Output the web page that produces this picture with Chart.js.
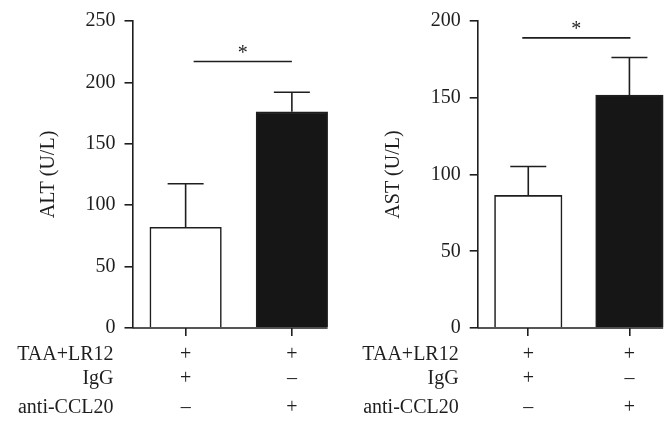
<!DOCTYPE html>
<html>
<head>
<meta charset="utf-8">
<script src="https://cdn.jsdelivr.net/npm/chart.js@4.4.0/dist/chart.umd.min.js"></script>
<style>
  html, body { margin: 0; padding: 0; background: #fff; overflow: hidden; }
  .panel { position: absolute; top: 0; width: 345px; height: 421px; }
</style>
</head>
<body>
<div class="panel" style="left:0"><canvas id="altChart"></canvas></div>
<div class="panel" style="left:335px"><canvas id="astChart"></canvas></div>
<script>
const groups = ['IgG', 'anti-CCL20']
const rowNames = ['TAA+LR12', 'IgG', 'anti-CCL20']
const groupSigns = [['+', '+', '–'], ['+', '–', '+']]

const altMeans = [82, 176]
const altErrors = [35.5, 16]
const astMeans = [86.4, 151.7]
const astErrors = [18.8, 24.5]

const altTicks = [0, 50, 100, 150, 200, 250]
const astTicks = [0, 50, 100, 150, 200]

// height of the bracket over the bars, in axis units
const altSignif = 217
const astSignif = 189

const INK = '#1e1e1e'
const SERIF = "'Liberation Serif', 'Times New Roman', serif"
const rowBaselines = [360, 384, 413]

const extras = {
  id: 'extras',
  afterDatasetsDraw (chart, args, opts) {
    const ctx = chart.ctx
    const x = chart.scales.x
    const y = chart.scales.y
    const bars = chart.getDatasetMeta(0).data
    ctx.save()
    ctx.strokeStyle = INK
    ctx.lineWidth = 1.6

    // error bars (upper only)
    bars.forEach((bar, i) => {
      const top = y.getPixelForValue(opts.means[i] + opts.errors[i])
      ctx.beginPath()
      ctx.moveTo(bar.x, bar.y)
      ctx.lineTo(bar.x, top)
      ctx.moveTo(bar.x - 18, top)
      ctx.lineTo(bar.x + 18, top)
      ctx.stroke()
    })

    // x axis line, stops at the last bar
    const last = bars[bars.length - 1]
    const base = y.getPixelForValue(0)
    ctx.beginPath()
    ctx.moveTo(chart.chartArea.left, base)
    ctx.lineTo(last.x + last.width / 2, base)
    ctx.stroke()

    // significance bracket
    const sy = y.getPixelForValue(opts.signif)
    const x1 = bars[0].x + opts.sigOffset[0]
    const x2 = bars[1].x + opts.sigOffset[1]
    ctx.beginPath()
    ctx.moveTo(x1, sy)
    ctx.lineTo(x2, sy)
    ctx.stroke()
    ctx.fillStyle = INK
    ctx.font = '20px ' + SERIF
    ctx.textAlign = 'center'
    ctx.textBaseline = 'alphabetic'
    ctx.fillText('*', (x1 + x2) / 2, sy - 3)

    // treatment table under the axis
    ctx.textAlign = 'right'
    rowNames.forEach((name, r) => ctx.fillText(name, y.right - 19, rowBaselines[r]))
    ctx.textAlign = 'center'
    groupSigns.forEach((signs, i) => {
      signs.forEach((s, r) => ctx.fillText(s, x.getPixelForValue(i), rowBaselines[r]))
    })
    ctx.restore()
  }
}

function makeChart (id, title, means, errors, ticks, signif, opts) {
  return new Chart(document.getElementById(id).getContext('2d'), {
    type: 'bar',
    plugins: [extras],
    data: {
      labels: groups,
      datasets: [{
        data: means,
        backgroundColor: ['#ffffff', '#161616'],
        borderColor: INK,
        borderWidth: 1.6,
        barThickness: opts.barWidth
      }]
    },
    options: {
      animation: false,
      responsive: true,
      maintainAspectRatio: false,
      layout: { padding: { top: 20, left: 0, right: 0, bottom: 0 } },
      plugins: {
        legend: { display: false },
        tooltip: { enabled: false },
        extras: { means, errors, signif, sigOffset: opts.sigOffset }
      },
      scales: {
        x: {
          offset: true,
          grid: { display: true, drawOnChartArea: false, offset: false, tickLength: 8, color: INK, lineWidth: 1.6 },
          border: { display: false },
          ticks: { display: false },
          afterFit: s => { s.height = 93 }
        },
        y: {
          min: ticks[0],
          max: ticks[ticks.length - 1],
          afterBuildTicks: s => { s.ticks = ticks.map(v => ({ value: v })) },
          grid: { display: true, drawOnChartArea: false, tickLength: 8, color: INK, lineWidth: 1.6 },
          border: { display: true, color: INK, width: 1.6 },
          ticks: { color: INK, padding: 9, font: { family: SERIF, size: 20 } },
          title: {
            display: true,
            text: title,
            color: INK,
            padding: { top: opts.titlePad, bottom: 0 },
            font: { family: SERIF, size: 20 }
          },
          afterFit: s => { s.width = opts.axisLeft }
        }
      }
    }
  })
}

makeChart('altChart', 'ALT (U/L)', altMeans, altErrors, altTicks, altSignif,
  { axisLeft: 132.5, barWidth: 71.5, titlePad: 37, sigOffset: [8, 0] })
makeChart('astChart', 'AST (U/L)', astMeans, astErrors, astTicks, astSignif,
  { axisLeft: 142.7, barWidth: 67.5, titlePad: 47, sigOffset: [-6, 1] })
</script>
</body>
</html>
